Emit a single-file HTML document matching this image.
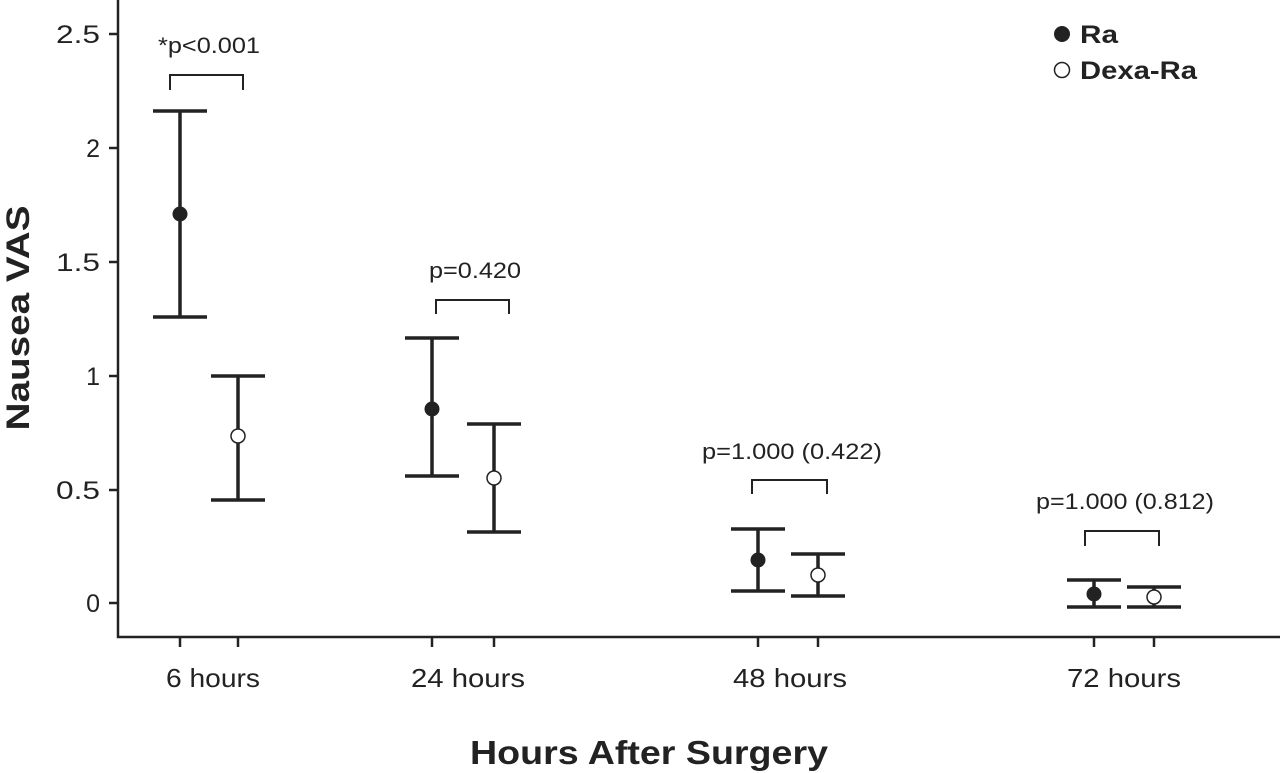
<!DOCTYPE html>
<html><head><meta charset="utf-8"><style>body{margin:0;background:#fff}svg{display:block}</style></head>
<body>
<svg width="1280" height="773" xmlns="http://www.w3.org/2000/svg" font-family="Liberation Sans, Arial, sans-serif" fill="#222">
<g stroke="#222" stroke-width="2.5" fill="none">
<path d="M118,0 V637 H1280"/>
<path d="M109,34H118M109,148H118M109,262H118M109,376H118M109,490H118M109,603H118"/>
<path d="M180,637V647M238,637V647M432,637V647M494,637V647M758,637V647M818,637V647M1094,637V647M1154,637V647"/>
</g>
<g font-size="25" text-anchor="end">
<text x="100" y="43" textLength="44" lengthAdjust="spacingAndGlyphs">2.5</text><text x="100" y="157">2</text><text x="100" y="271" textLength="44" lengthAdjust="spacingAndGlyphs">1.5</text><text x="100" y="385">1</text><text x="100" y="499" textLength="44" lengthAdjust="spacingAndGlyphs">0.5</text><text x="100" y="612">0</text>
</g>
<g font-size="26" text-anchor="middle">
<text x="213" y="687" textLength="94" lengthAdjust="spacingAndGlyphs">6 hours</text><text x="468" y="687" textLength="114" lengthAdjust="spacingAndGlyphs">24 hours</text><text x="790" y="687" textLength="114" lengthAdjust="spacingAndGlyphs">48 hours</text><text x="1124" y="687" textLength="114" lengthAdjust="spacingAndGlyphs">72 hours</text>
</g>
<text x="649" y="764" font-size="33" font-weight="bold" text-anchor="middle" textLength="358" lengthAdjust="spacingAndGlyphs">Hours After Surgery</text>
<text transform="translate(29,318) rotate(-90)" font-size="32" font-weight="bold" text-anchor="middle" textLength="225" lengthAdjust="spacingAndGlyphs">Nausea VAS</text>
<g stroke="#222" stroke-width="3.5" fill="none">
<path d="M180,111V317M153,111H207M153,317H207"/>
<path d="M238,376V500M211,376H265M211,500H265"/>
<path d="M432,338V476M405,338H459M405,476H459"/>
<path d="M494,424V532M467,424H521M467,532H521"/>
<path d="M758,529V591M731,529H785M731,591H785"/>
<path d="M818,554V596M791,554H845M791,596H845"/>
<path d="M1094,580V607M1067,580H1121M1067,607H1121"/>
<path d="M1154,587V607M1127,587H1181M1127,607H1181"/>
</g>
<g fill="#222"><circle cx="180" cy="214" r="7.5"/><circle cx="432" cy="409" r="7.5"/><circle cx="758" cy="560" r="7.5"/><circle cx="1094" cy="594" r="7.5"/></g>
<g fill="#fff" stroke="#222" stroke-width="1.5"><circle cx="238" cy="436" r="7"/><circle cx="494" cy="478" r="7"/><circle cx="818" cy="575" r="7"/><circle cx="1154" cy="597" r="7"/></g>
<g stroke="#222" stroke-width="2" fill="none">
<path d="M170,90V75H243V90"/><path d="M436,314V300H509V314"/><path d="M752,494V480H827V494"/><path d="M1085,546V531H1159V546"/>
</g>
<g font-size="22" text-anchor="middle">
<text x="209" y="53" textLength="102" lengthAdjust="spacingAndGlyphs">*p&lt;0.001</text><text x="475" y="278" textLength="92" lengthAdjust="spacingAndGlyphs">p=0.420</text><text x="792" y="459" textLength="180" lengthAdjust="spacingAndGlyphs">p=1.000 (0.422)</text><text x="1125" y="509" textLength="178" lengthAdjust="spacingAndGlyphs">p=1.000 (0.812)</text>
</g>
<circle cx="1062" cy="34" r="8" fill="#222"/>
<circle cx="1062" cy="70" r="7.5" fill="#fff" stroke="#222" stroke-width="1.5"/>
<g font-size="25" font-weight="bold"><text x="1080" y="43" textLength="38" lengthAdjust="spacingAndGlyphs">Ra</text><text x="1080" y="79" textLength="117" lengthAdjust="spacingAndGlyphs">Dexa-Ra</text></g>
</svg>
</body></html>
